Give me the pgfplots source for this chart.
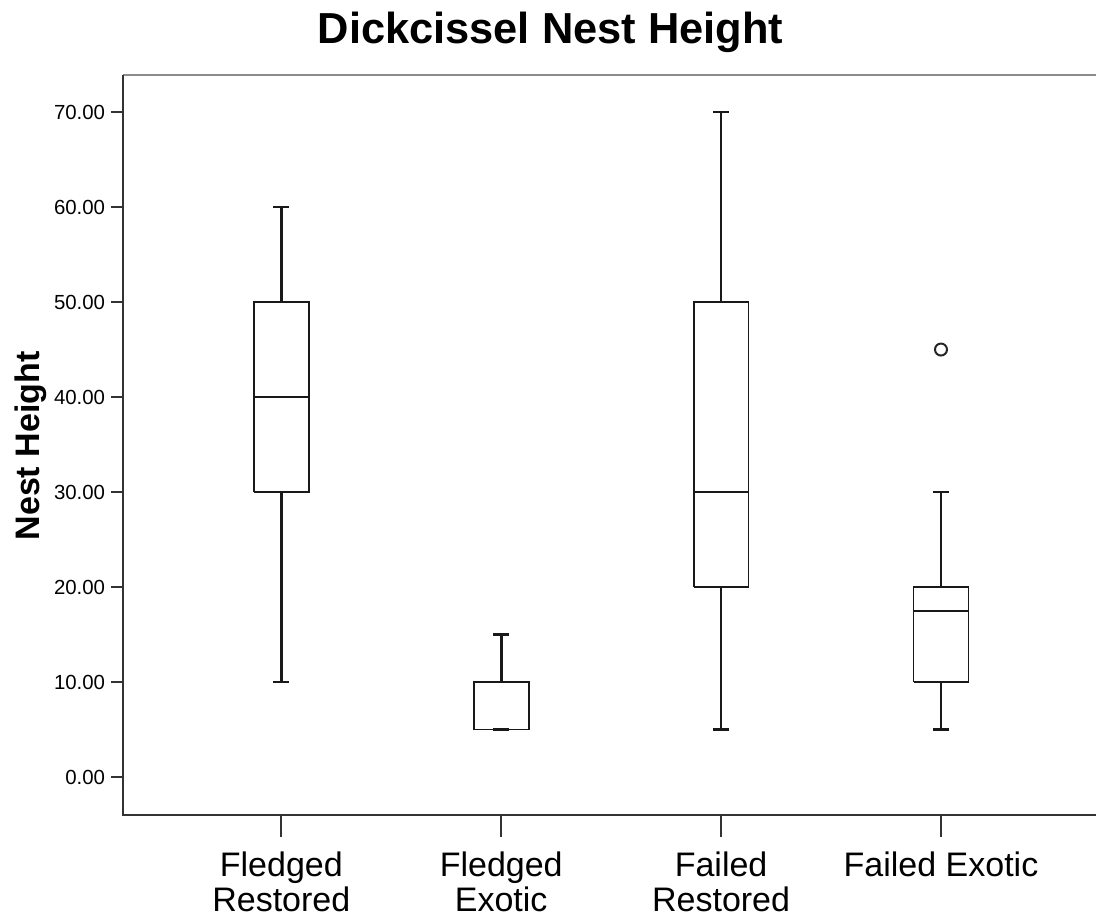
\documentclass[border=0pt]{standalone}
\usepackage{fontspec}
\setmainfont{Liberation Sans}
\usepackage{pgfplots}
\pgfplotsset{compat=1.18}
\begin{document}
\begin{tikzpicture}
\useasboundingbox (0pt,0pt) rectangle (548pt,460pt);
\begin{axis}[
  at={(61.5pt,52.5pt)}, anchor=south west,
  scale only axis, width=486.5pt, height=370pt,
  xmin=-0.72, xmax=3.705, ymin=-4, ymax=73.9,
  axis x line=bottom, axis y line=left,
  axis line style={draw=none},
  tick align=outside,
  xtick={0,1,2,3},
  xticklabels={{Fledged\\Restored},{Fledged\\Exotic},{Failed\\Restored},{Failed Exotic}},
  xticklabel style={align=center, font=\fontsize{17}{17.5}\selectfont, inner sep=0pt, yshift=-14pt},
  xtick style={/pgfplots/major tick length=11pt, line width=1pt, black!80},
  ytick={0,10,...,70},
  ytick style={/pgfplots/major tick length=6pt, line width=1pt, black!80},
  yticklabel style={font=\fontsize{10.2}{12}\selectfont, inner sep=0pt, xshift=-4.5pt},
  /pgf/number format/assume math mode=true,
  yticklabel={\pgfmathprintnumber[fixed, fixed zerofill, precision=2]{\tick}},
  clip=false,
  boxline/.style={black!90, line width=0.9pt, line join=miter, mark=none},
  whisk/.style={black!90, line width=1.4pt, mark=none},
]
\draw[black!45, line width=1pt] (rel axis cs:0,1) -- (rel axis cs:1.05,1);
\draw[black!80, line width=1.3pt] (rel axis cs:0,1) -- (rel axis cs:0,0) -- (rel axis cs:1.05,0);
% Fledged Restored: 10, 30, 40, 50, 60
\addplot[whisk] coordinates {(0,50) (0,60)};
\addplot[whisk] coordinates {(-0.036,60) (0.036,60)};
\addplot[whisk] coordinates {(0,30) (0,10)};
\addplot[whisk] coordinates {(-0.036,10) (0.036,10)};
\addplot[boxline] coordinates {(-0.125,30) (0.125,30) (0.125,50) (-0.125,50) (-0.125,30)};
\addplot[boxline] coordinates {(-0.125,40) (0.125,40)};
% Fledged Exotic: 5, 5, 5, 10, 15
\addplot[whisk] coordinates {(1,10) (1,15)};
\addplot[whisk] coordinates {(0.964,15) (1.036,15)};
\addplot[whisk] coordinates {(0.964,5) (1.036,5)};
\addplot[boxline] coordinates {(0.875,5) (1.125,5) (1.125,10) (0.875,10) (0.875,5)};
% Failed Restored: 5, 20, 30, 50, 70
\addplot[whisk] coordinates {(2,50) (2,70)};
\addplot[whisk] coordinates {(1.964,70) (2.036,70)};
\addplot[whisk] coordinates {(2,20) (2,5)};
\addplot[whisk] coordinates {(1.964,5) (2.036,5)};
\addplot[boxline] coordinates {(1.875,20) (2.125,20) (2.125,50) (1.875,50) (1.875,20)};
\addplot[boxline] coordinates {(1.875,30) (2.125,30)};
% Failed Exotic: 5, 10, 17.5, 20, 30; outlier 45
\addplot[whisk] coordinates {(3,20) (3,30)};
\addplot[whisk] coordinates {(2.964,30) (3.036,30)};
\addplot[whisk] coordinates {(3,10) (3,5)};
\addplot[whisk] coordinates {(2.964,5) (3.036,5)};
\addplot[boxline] coordinates {(2.875,10) (3.125,10) (3.125,20) (2.875,20) (2.875,10)};
\addplot[boxline] coordinates {(2.875,17.5) (3.125,17.5)};
\addplot[only marks, mark=o, mark size=3pt, mark options={line width=1pt, draw=black!85}] coordinates {(3,45)};
\end{axis}
\node[font=\fontsize{21.7}{24}\selectfont\bfseries] at (275.25pt,444pt) {Dickcissel Nest Height};
\node[font=\fontsize{17}{20}\selectfont\bfseries, rotate=90] at (15.5pt,237pt) {Nest Height};
\end{tikzpicture}
\end{document}
